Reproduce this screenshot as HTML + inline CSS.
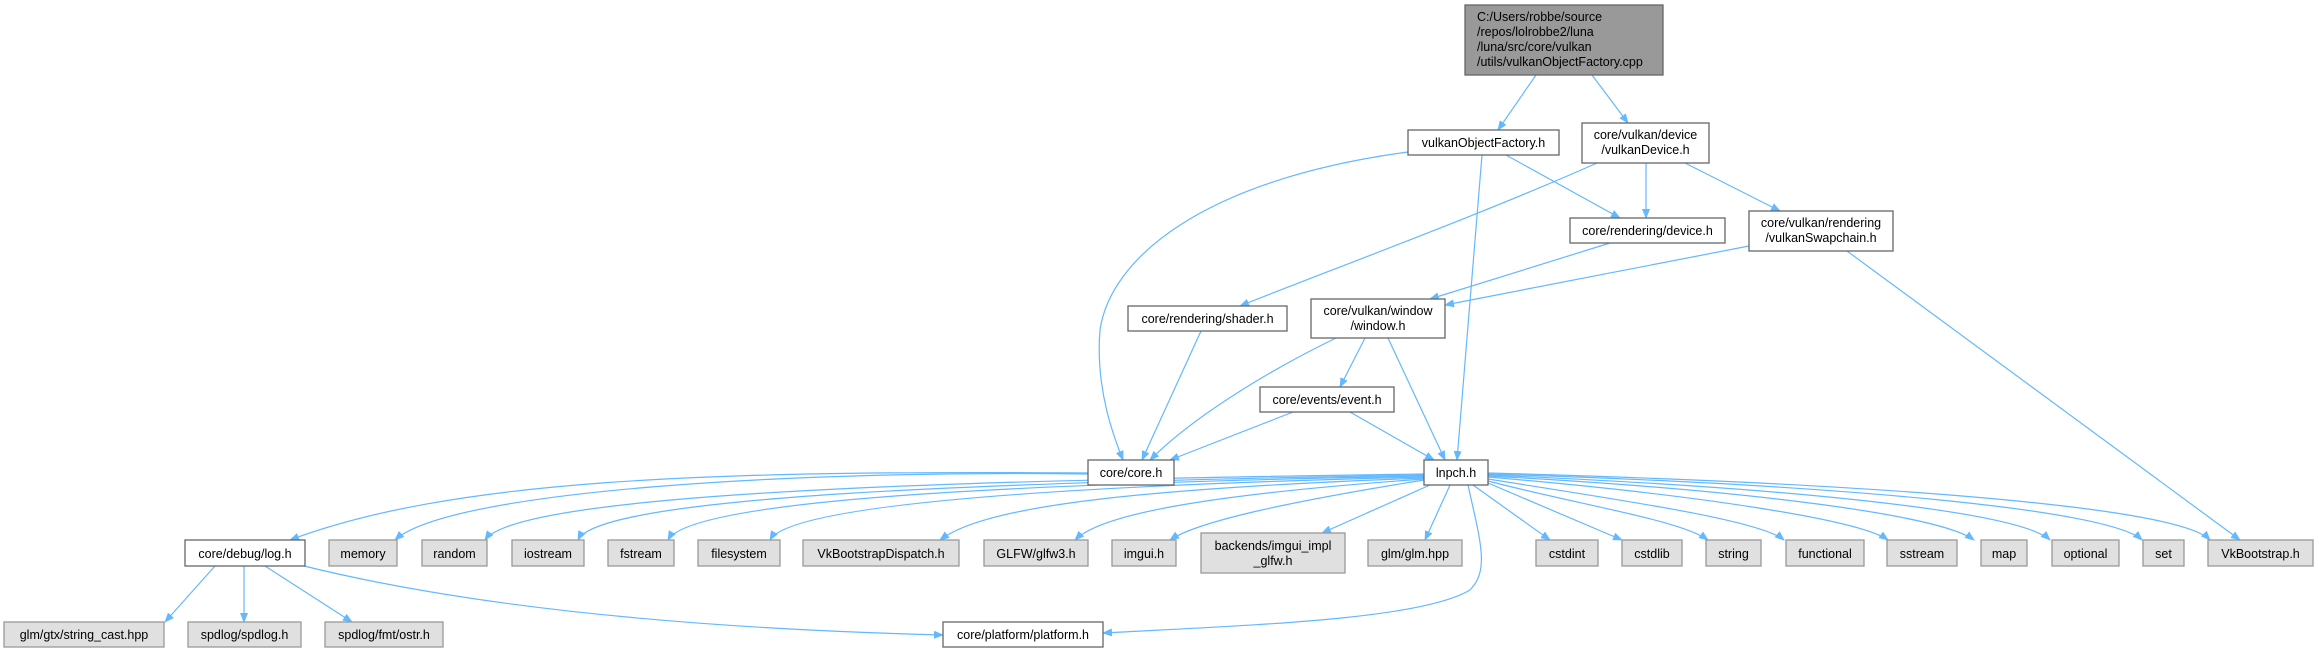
<!DOCTYPE html>
<html><head><meta charset="utf-8"><style>
html,body{margin:0;padding:0;background:#fff;}
svg{display:block}
text{font-family:"Liberation Sans",Arial,sans-serif;font-size:12.5px;fill:#000}
.e{fill:none;stroke:#63b8ff;stroke-width:1.2}
.n{fill:#fff;stroke:#666;stroke-width:1.3}
.g{fill:#e0e0e0;stroke:#999;stroke-width:1.3}
.r{fill:#999;stroke:#666;stroke-width:1.3}
</style></head><body>
<svg width="2319" height="652" viewBox="0 0 2319 652" xmlns="http://www.w3.org/2000/svg">
<defs><marker id="a" markerWidth="10" markerHeight="8" refX="9" refY="4" orient="auto" markerUnits="userSpaceOnUse"><path d="M0,0 L10,4 L0,8 z" fill="#63b8ff"/></marker></defs>
<g marker-end="url(#a)">
<path class="e" d="M1536,75 L1498,130"/>
<path class="e" d="M1592,75 L1628,123"/>
<path class="e" d="M1408,152 C1200,180 1110,260 1100,330 C1095,390 1115,440 1123,460"/>
<path class="e" d="M1482,155 L1457,460"/>
<path class="e" d="M1506,155 L1620,218"/>
<path class="e" d="M1597,163 C1480,215 1330,270 1240,306"/>
<path class="e" d="M1646,163 L1646,218"/>
<path class="e" d="M1685,163 L1780,211"/>
<path class="e" d="M1610,243 L1430,299"/>
<path class="e" d="M1749,246 L1445,305"/>
<path class="e" d="M1847,251 L2240,540"/>
<path class="e" d="M1201,331 L1142,460"/>
<path class="e" d="M1336,338 C1260,375 1190,420 1150,460"/>
<path class="e" d="M1365,338 L1340,387"/>
<path class="e" d="M1388,338 L1445,460"/>
<path class="e" d="M1293,412 L1170,460"/>
<path class="e" d="M1350,412 L1434,460"/>
<path class="e" d="M1088,473 C700,470 450,480 290,540"/>
<path class="e" d="M1088,474 C800,470 450,490 395,540"/>
<path class="e" d="M1424,474 C1000,480 520,490 485,540"/>
<path class="e" d="M1424,475 C1000,482 600,495 578,540"/>
<path class="e" d="M1424,476 C1000,484 690,500 668,540"/>
<path class="e" d="M1424,477 C1050,486 790,505 770,540"/>
<path class="e" d="M1424,478 C1100,490 980,510 940,540"/>
<path class="e" d="M1424,479 C1200,495 1100,515 1075,540"/>
<path class="e" d="M1424,480 C1300,500 1200,520 1170,540"/>
<path class="e" d="M1430,485 L1322,533"/>
<path class="e" d="M1450,485 L1425,540"/>
<path class="e" d="M1468,485 C1480,540 1490,570 1470,590 C1420,620 1250,625 1103,633"/>
<path class="e" d="M1473,485 L1550,540"/>
<path class="e" d="M1488,483 L1622,540"/>
<path class="e" d="M1488,481 C1580,505 1680,520 1708,540"/>
<path class="e" d="M1488,479 C1620,500 1760,520 1784,540"/>
<path class="e" d="M1488,477 C1700,495 1860,520 1888,540"/>
<path class="e" d="M1488,476 C1750,490 1940,515 1974,540"/>
<path class="e" d="M1488,475 C1800,488 2020,512 2050,540"/>
<path class="e" d="M1488,474 C1850,485 2110,510 2142,540"/>
<path class="e" d="M1488,473 C1900,484 2180,508 2210,540"/>
<path class="e" d="M215,566 L165,622"/>
<path class="e" d="M244,566 L244,622"/>
<path class="e" d="M265,566 L352,622"/>
<path class="e" d="M300,565 C500,615 750,630 943,635"/>
</g>
<rect class="r" x="1465" y="5" width="198" height="70"/>
<text x="1477" y="21">C:/Users/robbe/source</text>
<text x="1477" y="36">/repos/lolrobbe2/luna</text>
<text x="1477" y="51">/luna/src/core/vulkan</text>
<text x="1477" y="66">/utils/vulkanObjectFactory.cpp</text>
<g text-anchor="middle">
<rect class="n" x="1408" y="130" width="151" height="25"/><text x="1483.5" y="147">vulkanObjectFactory.h</text>
<rect class="n" x="1582" y="123" width="127" height="40"/><text x="1645.5" y="139">core/vulkan/device</text><text x="1645.5" y="154">/vulkanDevice.h</text>
<rect class="n" x="1570" y="218" width="155" height="25"/><text x="1647.5" y="235">core/rendering/device.h</text>
<rect class="n" x="1749" y="211" width="144" height="40"/><text x="1821" y="227">core/vulkan/rendering</text><text x="1821" y="242">/vulkanSwapchain.h</text>
<rect class="n" x="1311" y="299" width="134" height="39"/><text x="1378" y="315">core/vulkan/window</text><text x="1378" y="330">/window.h</text>
<rect class="n" x="1128" y="306" width="159" height="25"/><text x="1207.5" y="323">core/rendering/shader.h</text>
<rect class="n" x="1260" y="387" width="134" height="25"/><text x="1327" y="404">core/events/event.h</text>
<rect class="n" x="1088" y="460" width="86" height="25"/><text x="1131" y="477">core/core.h</text>
<rect class="n" x="1424" y="460" width="64" height="25"/><text x="1456" y="477">lnpch.h</text>
<rect class="n" x="185" y="540" width="120" height="26"/><text x="245" y="558">core/debug/log.h</text>
<rect class="g" x="329" y="540" width="68" height="26"/><text x="363" y="558">memory</text>
<rect class="g" x="422" y="540" width="65" height="26"/><text x="454.5" y="558">random</text>
<rect class="g" x="512" y="540" width="72" height="26"/><text x="548" y="558">iostream</text>
<rect class="g" x="608" y="540" width="66" height="26"/><text x="641" y="558">fstream</text>
<rect class="g" x="698" y="540" width="82" height="26"/><text x="739" y="558">filesystem</text>
<rect class="g" x="803" y="540" width="156" height="26"/><text x="881" y="558">VkBootstrapDispatch.h</text>
<rect class="g" x="984" y="540" width="104" height="26"/><text x="1036" y="558">GLFW/glfw3.h</text>
<rect class="g" x="1112" y="540" width="64" height="26"/><text x="1144" y="558">imgui.h</text>
<rect class="g" x="1201" y="533" width="144" height="40"/><text x="1273" y="550">backends/imgui_impl</text><text x="1273" y="565">_glfw.h</text>
<rect class="g" x="1368" y="540" width="94" height="26"/><text x="1415" y="558">glm/glm.hpp</text>
<rect class="g" x="1536" y="540" width="62" height="26"/><text x="1567" y="558">cstdint</text>
<rect class="g" x="1622" y="540" width="60" height="26"/><text x="1652" y="558">cstdlib</text>
<rect class="g" x="1706" y="540" width="55" height="26"/><text x="1733.5" y="558">string</text>
<rect class="g" x="1786" y="540" width="78" height="26"/><text x="1825" y="558">functional</text>
<rect class="g" x="1887" y="540" width="70" height="26"/><text x="1922" y="558">sstream</text>
<rect class="g" x="1981" y="540" width="46" height="26"/><text x="2004" y="558">map</text>
<rect class="g" x="2052" y="540" width="67" height="26"/><text x="2085.5" y="558">optional</text>
<rect class="g" x="2143" y="540" width="41" height="26"/><text x="2163.5" y="558">set</text>
<rect class="g" x="2208" y="540" width="105" height="26"/><text x="2260.5" y="558">VkBootstrap.h</text>
<rect class="g" x="4" y="622" width="160" height="25"/><text x="84" y="639">glm/gtx/string_cast.hpp</text>
<rect class="g" x="188" y="622" width="113" height="25"/><text x="244.5" y="639">spdlog/spdlog.h</text>
<rect class="g" x="325" y="622" width="118" height="25"/><text x="384" y="639">spdlog/fmt/ostr.h</text>
<rect class="n" x="943" y="622" width="160" height="25"/><text x="1023" y="639">core/platform/platform.h</text>
</g>
</svg>
</body></html>
